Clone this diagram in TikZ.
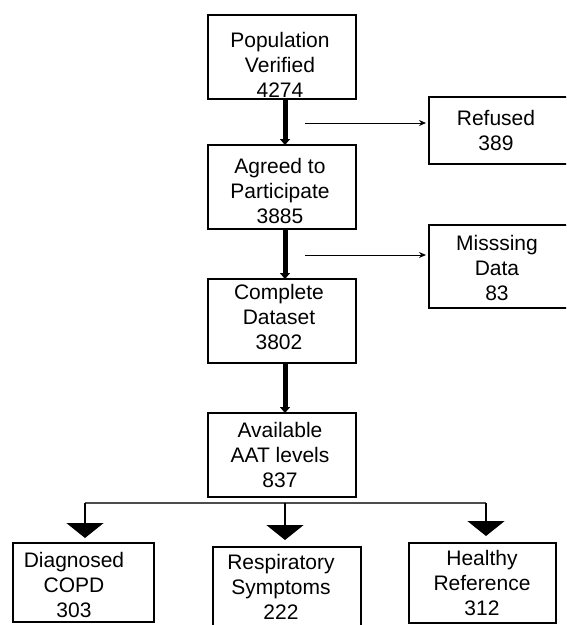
\documentclass[tikz,border=0pt]{standalone}
\usepackage{fontspec}
\setmainfont{Liberation Sans}
\usetikzlibrary{arrows.meta}
\tikzset{
  box/.style={draw, line width=1.8pt, inner sep=0pt, outer sep=0pt, anchor=north west},
  lbl/.style={font=\fontsize{21}{25}\selectfont, align=center, inner sep=0pt},
  bigarrow/.style={line width=5pt, -{Triangle[width=10pt,length=6pt]}},
  sidearrow/.style={line width=1pt, -{Stealth[length=7pt,width=6pt]}, shorten >=3pt},
  branchline/.style={line width=1.5pt, draw=black!70},
  downarrow/.style={line width=1.8pt, -{Triangle[width=37pt,length=15pt]}},
}
\begin{document}
\begin{tikzpicture}[x=1pt,y=-1pt]
\useasboundingbox (0,0) rectangle (566,625);
\clip (0,0) rectangle (566,625);
% boxes
\node[box, minimum width=148pt, minimum height=84pt] (pop) at (208,15) {};
\node[box, minimum width=148pt, minimum height=84pt] (agr) at (208,145) {};
\node[box, minimum width=148pt, minimum height=84pt] (com) at (208,279) {};
\node[box, minimum width=148pt, minimum height=84pt] (ava) at (208,413) {};
\node[box, minimum width=141pt, minimum height=67pt] (ref) at (429,97) {};
\node[box, minimum width=141pt, minimum height=83pt] (mis) at (429,225) {};
\node[box, minimum width=141pt, minimum height=79pt] (dia) at (13,543) {};
\node[box, minimum width=148pt, minimum height=83pt] (res) at (213,547) {};
\node[box, minimum width=147pt, minimum height=80pt] (hea) at (409,543) {};
% labels
\node[lbl] (popt) at (280,64.5) {Population\\Verified\\4274};
\node[lbl] (agrt) at (280,191) {Agreed to\\Participate\\3885};
\node[lbl] (comt) at (279,317) {Complete\\Dataset\\3802};
\node[lbl] (avat) at (280,455) {Available\\AAT levels\\837};
\node[lbl] (reft) at (496,130) {Refused\\389};
\node[lbl] (mist) at (497,267.5) {Misssing\\Data\\83};
\node[lbl] (diat) at (74,584.5) {Diagnosed\\COPD\\303};
\node[lbl] (rest) at (281,586.5) {Respiratory\\Symptoms\\222};
\node[lbl] (heat) at (482,582.5) {Healthy\\Reference\\312};
% main thick arrows
\coordinate (ax) at (285,0);
\draw[bigarrow] (ax |- pop.south) -- (ax |- agr.north);
\draw[bigarrow] (ax |- agr.south) -- (ax |- com.north);
\draw[bigarrow] (ax |- com.south) -- (ax |- ava.north);
% side arrows
\coordinate (s1) at (305,123);
\coordinate (s2) at (305,255);
\draw[sidearrow] (s1) -- (s1 -| ref.west);
\draw[sidearrow] (s2) -- (s2 -| mis.west);
% branch
\coordinate (b1) at (85,503);
\coordinate (b2) at (285,503);
\coordinate (b3) at (486,503);
\draw[branchline] (b1) -- (b3);
\draw[downarrow, shorten >=5pt] (b1) -- (b1 |- dia.north);
\draw[downarrow, shorten >=7pt] (b2) -- (b2 |- res.north);
\draw[downarrow, shorten >=7pt] (b3) -- (b3 |- hea.north);
\end{tikzpicture}
\end{document}
